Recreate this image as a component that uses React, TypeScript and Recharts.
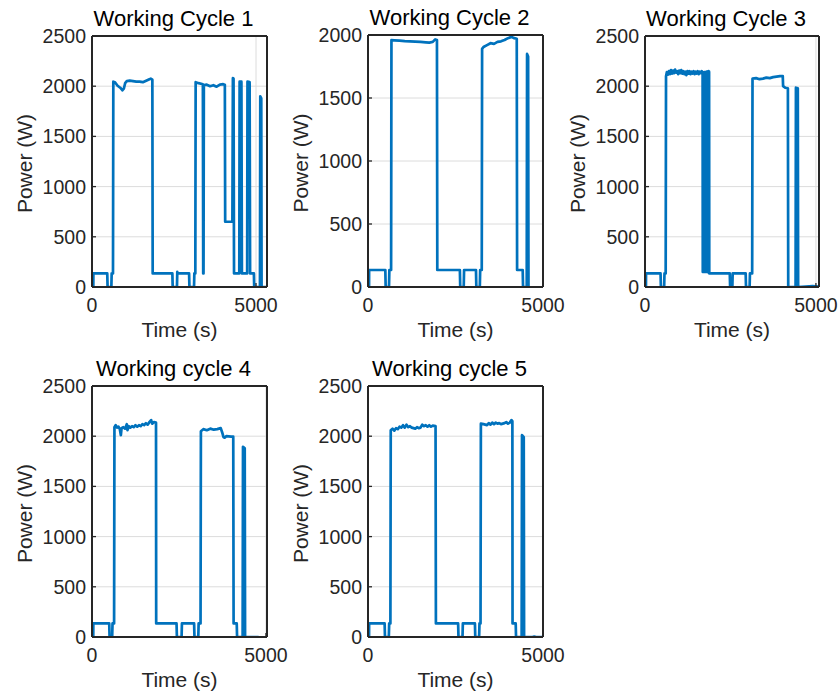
import React from 'react';
import { LineChart, Line, XAxis, YAxis, CartesianGrid } from 'recharts';

// ---------- data ----------
const xTicks = [0, 5000];
const yTicks2500 = [0, 500, 1000, 1500, 2000, 2500];
const yTicks2000 = [0, 500, 1000, 1500, 2000];
const panelTitles = ['Working Cycle 1', 'Working Cycle 2', 'Working Cycle 3', 'Working cycle 4', 'Working cycle 5'];
const xLabel = 'Time (s)';
const yLabel = 'Power (W)';

const cycle1Time = [0,40,42,465,475,590,600,640,650,700,780,860,930,970,1010,1060,1150,1250,1350,1450,1550,1650,1750,1790,1840,1850,2450,2460,2590,2600,2610,2960,2970,3110,3120,3150,3160,3250,3380,3390,3400,3410,3500,3600,3700,3800,3900,4000,4050,4060,4280,4295,4315,4330,4490,4500,4555,4570,4730,4740,4805,4820,4935,4945,5120,5130,5160,5170,5330];
const cycle1Power = [0,0,135,135,0,0,135,135,2045,2040,2005,1985,1960,1975,2030,2050,2055,2050,2045,2045,2040,2055,2070,2075,2065,135,135,0,0,150,135,135,0,0,135,135,2040,2030,2020,135,135,2010,2015,2000,2010,1995,2015,2020,2015,650,650,2080,2075,135,135,2045,2045,135,135,2045,2040,135,135,0,0,1900,1880,0,0];

const cycle2Time = [0,30,32,495,505,600,610,660,670,750,900,1050,1200,1350,1500,1650,1750,1850,1920,1970,1980,2625,2635,2735,2745,3085,3095,3195,3205,3250,3260,3300,3400,3500,3600,3700,3800,3900,4000,4100,4180,4250,4260,4420,4430,4535,4545,4575,4585,4590];
const cycle2Power = [0,0,135,135,0,0,135,135,1960,1958,1955,1952,1950,1948,1945,1942,1940,1945,1965,1960,135,135,0,0,135,135,0,0,135,135,1890,1905,1920,1935,1930,1945,1950,1960,1975,1985,1975,1970,135,135,0,0,1850,1830,0,0];

const cycle3Time = [0,28,30,455,465,560,570,605,615,640,670,700,730,760,790,820,850,880,910,940,970,1000,1030,1060,1090,1120,1150,1180,1210,1240,1270,1300,1330,1360,1390,1420,1450,1480,1510,1540,1570,1600,1630,1660,1685,1690,1700,1710,1722,1732,1745,1755,1768,1778,1790,1800,1812,1822,1835,1845,1858,1868,1875,1880,2480,2490,2555,2565,2945,2955,3060,3070,3135,3145,3250,3350,3450,3550,3650,3750,3850,3950,4030,4040,4100,4180,4190,4405,4415,4470,4480,4700,4900,5080];
const cycle3Power = [0,0,135,135,0,0,135,135,2100,2140,2115,2150,2120,2160,2125,2155,2130,2165,2135,2150,2120,2155,2130,2160,2125,2150,2120,2145,2110,2150,2125,2150,2120,2145,2125,2150,2120,2145,2125,2150,2120,2145,2130,2150,2140,150,2140,150,2135,150,2140,150,2140,150,2135,150,2145,150,2140,150,2150,140,2145,135,135,0,0,135,135,0,0,135,135,2075,2080,2070,2075,2085,2080,2090,2095,2100,2100,2000,1985,1980,0,0,1985,1980,0,5,8,5];

const cycle4Time = [0,36,38,495,505,580,590,635,645,680,720,760,800,830,850,900,950,1000,1020,1060,1100,1150,1200,1250,1300,1350,1400,1450,1500,1550,1600,1650,1700,1730,1780,1840,1845,2430,2440,2575,2585,2935,2945,3055,3065,3120,3130,3200,3300,3400,3500,3600,3700,3740,3780,3820,3860,4000,4060,4070,4160,4170,4330,4340,4390,4400,4790];
const cycle4Power = [0,0,135,135,0,0,135,135,2090,2110,2085,2095,2070,2010,2080,2090,2075,2120,2060,2100,2085,2100,2090,2110,2095,2110,2100,2120,2110,2130,2115,2140,2160,2125,2140,2135,135,135,0,0,135,135,0,0,135,135,2050,2070,2060,2075,2065,2070,2080,2040,1990,1985,2000,1995,1995,135,135,0,0,1895,1880,0,0];

const cycle5Time = [0,30,32,475,485,595,605,640,650,700,750,800,850,900,950,1000,1050,1100,1150,1200,1250,1300,1350,1400,1450,1500,1550,1600,1650,1700,1750,1800,1850,1930,1940,2575,2585,2700,2710,3055,3065,3175,3185,3215,3225,3300,3400,3450,3500,3550,3600,3650,3700,3750,3800,3850,3900,3950,4000,4050,4100,4125,4130,4220,4230,4390,4400,4450,4460,4700,4750,4800,5000];
const cycle5Power = [0,0,135,135,0,0,135,135,2060,2075,2055,2080,2070,2095,2085,2110,2085,2115,2090,2100,2085,2080,2075,2090,2080,2085,2115,2100,2110,2095,2110,2095,2105,2100,135,135,0,0,135,135,0,0,135,135,2125,2120,2110,2130,2115,2135,2120,2135,2125,2130,2120,2125,2130,2140,2125,2135,2160,2150,135,135,0,0,2010,1990,0,0,5,0,0];

// ---------- styling ----------
const FONT = '"Liberation Sans", Arial, Helvetica, sans-serif';
const TEXT = '#262626';
const LINE = '#0072BD';
const AXIS = '#262626';
const GRID = '#dcdcdc';

const PAD_L = 90;
const PAD_T = 40;
const PAD_R = 30;
const PAD_B = 60;

const TitleText = (props: any) => {
  const vb = props.viewBox || { x: 0, y: 0, width: 0, height: 0 };
  return (
    <text x={vb.x + vb.width / 2 - 6} y={vb.y + vb.height - 10} textAnchor="middle" fill="#000" fontSize={22} fontFamily={FONT}>
      {props.value}
    </text>
  );
};

const XLabelText = (props: any) => {
  const vb = props.viewBox || { x: 0, y: 0, width: 0, height: 0 };
  return (
    <text x={vb.x + vb.width / 2} y={vb.y + 50} textAnchor="middle" fill={TEXT} fontSize={21} fontFamily={FONT}>
      {props.value}
    </text>
  );
};

const YLabelText = (props: any) => {
  const vb = props.viewBox || { x: 0, y: 0, width: 0, height: 0 };
  const cx = vb.x + vb.width - 60;
  const cy = vb.y + vb.height / 2 + 2;
  return (
    <text x={cx} y={cy} transform={`rotate(-90, ${cx}, ${cy})`} textAnchor="middle" fill={TEXT} fontSize={21} fontFamily={FONT}>
      {props.value}
    </text>
  );
};

type PanelProps = {
  left: number;
  top: number;
  w: number;
  h: number;
  xMax: number;
  yMax: number;
  yTicks: number[];
  time: number[];
  power: number[];
  title: string;
};

function Panel({ left, top, w, h, xMax, yMax, yTicks, time, power, title }: PanelProps) {
  const data = time.map((t, i) => ({ t, p: power[i] }));
  const tickStyle = { fill: TEXT, fontSize: 19.5, fontFamily: FONT };
  return (
    <div style={{ position: 'absolute', left: left - PAD_L, top: top - PAD_T }}>
      <LineChart
        width={PAD_L + w + 1 + PAD_R}
        height={PAD_T + h + PAD_B}
        data={data}
        margin={{ top: PAD_T - 1, right: PAD_R, bottom: 0, left: 0 }}
      >
        <CartesianGrid stroke={GRID} strokeWidth={1} />
        <XAxis
          dataKey="t"
          type="number"
          domain={[0, xMax]}
          ticks={xTicks}
          interval={0}
          allowDataOverflow
          height={PAD_B}
          tickSize={-4}
          tickMargin={15}
          tick={tickStyle}
          axisLine={{ stroke: AXIS, strokeWidth: 2 }}
          tickLine={{ stroke: AXIS, strokeWidth: 1.3 }}
          label={{ value: xLabel, content: XLabelText }}
        />
        <XAxis
          xAxisId="top"
          orientation="top"
          dataKey="t"
          type="number"
          domain={[0, xMax]}
          ticks={xTicks}
          interval={0}
          allowDataOverflow
          height={1}
          tickSize={-4}
          tick={false}
          axisLine={{ stroke: AXIS, strokeWidth: 2 }}
          tickLine={{ stroke: AXIS, strokeWidth: 1.3 }}
          label={{ value: title, content: TitleText }}
        />
        <YAxis
          dataKey="p"
          type="number"
          domain={[0, yMax]}
          ticks={yTicks}
          interval={0}
          allowDataOverflow
          width={PAD_L}
          tickSize={-4}
          tickMargin={10}
          tick={tickStyle}
          axisLine={{ stroke: AXIS, strokeWidth: 2 }}
          tickLine={{ stroke: AXIS, strokeWidth: 1.3 }}
          label={{ value: yLabel, content: YLabelText }}
        />
        <YAxis
          yAxisId="right"
          orientation="right"
          dataKey="p"
          type="number"
          domain={[0, yMax]}
          ticks={yTicks}
          interval={0}
          allowDataOverflow
          width={1}
          tickSize={-4}
          tick={false}
          axisLine={{ stroke: AXIS, strokeWidth: 2 }}
          tickLine={{ stroke: AXIS, strokeWidth: 1.3 }}
        />
        <Line
          dataKey="p"
          type="linear"
          dot={false}
          activeDot={false}
          stroke={LINE}
          strokeWidth={2.7}
          strokeLinejoin="round"
          isAnimationActive={false}
        />
      </LineChart>
    </div>
  );
}

export default function App() {
  return (
    <div style={{ position: 'absolute', left: 0, top: 0, width: 840, height: 695, background: '#fff' }}>
      <Panel left={92} top={36} w={175} h={251} xMax={5335} yMax={2500} yTicks={yTicks2500} time={cycle1Time} power={cycle1Power} title={panelTitles[0]} />
      <Panel left={368} top={35} w={175} h={252} xMax={5000} yMax={2000} yTicks={yTicks2000} time={cycle2Time} power={cycle2Power} title={panelTitles[1]} />
      <Panel left={645} top={36} w={174} h={251} xMax={5090} yMax={2500} yTicks={yTicks2500} time={cycle3Time} power={cycle3Power} title={panelTitles[2]} />
      <Panel left={92} top={386} w={175} h={251} xMax={5030} yMax={2500} yTicks={yTicks2500} time={cycle4Time} power={cycle4Power} title={panelTitles[3]} />
      <Panel left={368} top={386} w={175} h={251} xMax={5000} yMax={2500} yTicks={yTicks2500} time={cycle5Time} power={cycle5Power} title={panelTitles[4]} />
    </div>
  );
}
